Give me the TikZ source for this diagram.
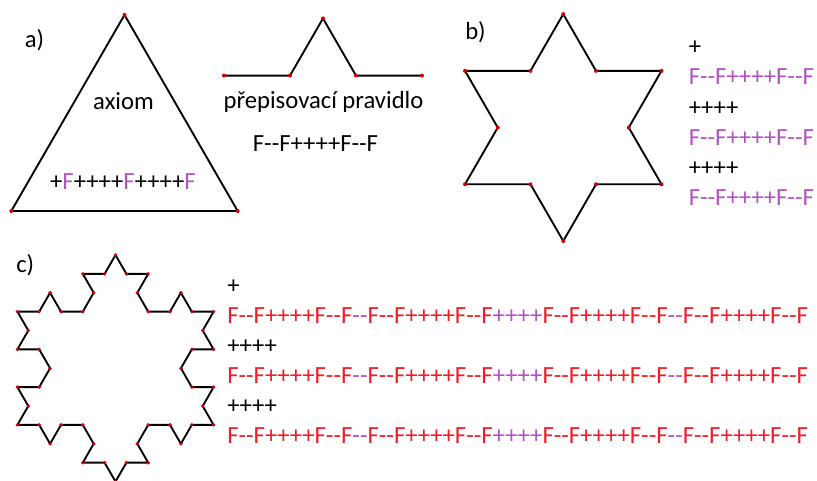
\documentclass[tikz,border=0pt]{standalone}
\usepackage{fontspec}
\setmainfont{Carlito}[Ligatures=TeXOff]
\definecolor{lpurple}{RGB}{178,82,196}
\definecolor{lred}{RGB}{240,28,38}
\definecolor{dotred}{RGB}{210,0,0}
\newcommand{\Pu}[1]{\textcolor{lpurple}{#1}}
\newcommand{\Rd}[1]{\textcolor{lred}{#1}}
\newcommand{\Rule}{F--F++++F--F}
\begin{document}
\begin{tikzpicture}[x=0.75pt,y=0.75pt,
  edge/.style={draw=black,line width=1.4pt,line join=round},
  redpt/.style={fill=dotred},
  txt/.style={inner sep=0pt,font=\fontsize{18.5}{22}\selectfont},
  lbl/.style={txt,anchor=base west},
  ctr/.style={txt,anchor=base}]
\useasboundingbox (0,0) rectangle (817,481);
\clip (0,0) rectangle (817,481);
% a) triangle
\draw[edge] (11.3,270) -- ++(60:226.4) -- ++(-60:226.4) -- cycle;
\fill[redpt] (11.3,270) circle[radius=2] ++(60:226.4) circle[radius=2] ++(-60:226.4) circle[radius=2];
\node[lbl] (la) at (24.5,433) {a)};
\node[ctr] (axiom) at (123.5,371) {axiom};
\node[ctr] (axstr) at (123,291) {+\Pu{F}++++\Pu{F}++++\Pu{F}};
% rule
\draw[edge] (224,405.4) \foreach \a in {0,60,-60,0} { -- ++(\a:66) };
\fill[redpt] (224,405.4) circle[radius=2] \foreach \a in {0,60,-60,0} { ++(\a:66) circle[radius=2] };
\node[ctr] (prav) at (323.5,372) {přepisovací pravidlo};
\node[ctr] (rstr) at (315.5,329.3) {\Rule};
% b) star
\draw[edge] (465,296.7) \foreach \a in {60,120,0,60,-60,0,-120,-60,180,240,120} { -- ++(\a:65.5) } -- cycle;
\fill[redpt] (465,296.7) circle[radius=2] \foreach \a in {60,120,0,60,-60,0,-120,-60,180,240,120} { ++(\a:65.5) circle[radius=2] };
\node[lbl] (lb) at (465,441) {b)};
\node[lbl] (b0) at (688.5,426.25) {+};
\node[lbl] (b1) at (688.5,396) {\Pu{\Rule}};
\node[lbl] (b2) at (688.5,365.75) {++++};
\node[lbl] (b3) at (688.5,335.5) {\Pu{\Rule}};
\node[lbl] (b4) at (688.5,305.25) {++++};
\node[lbl] (b5) at (688.5,275) {\Pu{\Rule}};
% c) Koch level 2
\draw[edge] (17.4,56.1) \foreach \a in {
  60,120,0,60,120,180,60,120,0,60,-60,0,60,120,0,60,
  -60,0,-120,-60,0,60,-60,0,-120,-60,-180,-120,-60,0,-120,-60,
  180,240,120,180,240,300,180,240,120,180,60,120,180,240,120} { -- ++(\a:21.8) } -- cycle;
\fill[redpt] (17.4,56.1) circle[radius=1.9] \foreach \a in {
  60,120,0,60,120,180,60,120,0,60,-60,0,60,120,0,60,
  -60,0,-120,-60,0,60,-60,0,-120,-60,-180,-120,-60,0,-120,-60,
  180,240,120,180,240,300,180,240,120,180,60,120,180,240,120} { ++(\a:21.8) circle[radius=1.9] };
\node[lbl] (lc) at (16,208) {c)};
\newcommand{\Cline}{\Rd{\Rule}\Pu{--}\Rd{\Rule}\Pu{++++}\Rd{\Rule}\Pu{--}\Rd{\Rule}}
\node[lbl] (c0) at (227,187.7) {+};
\node[lbl] (c1) at (227,157.7) {\Cline};
\node[lbl] (c2) at (227,127.7) {++++};
\node[lbl] (c3) at (227,97.7) {\Cline};
\node[lbl] (c4) at (227,67.7) {++++};
\node[lbl] (c5) at (227,37.7) {\Cline};
\end{tikzpicture}
\end{document}
